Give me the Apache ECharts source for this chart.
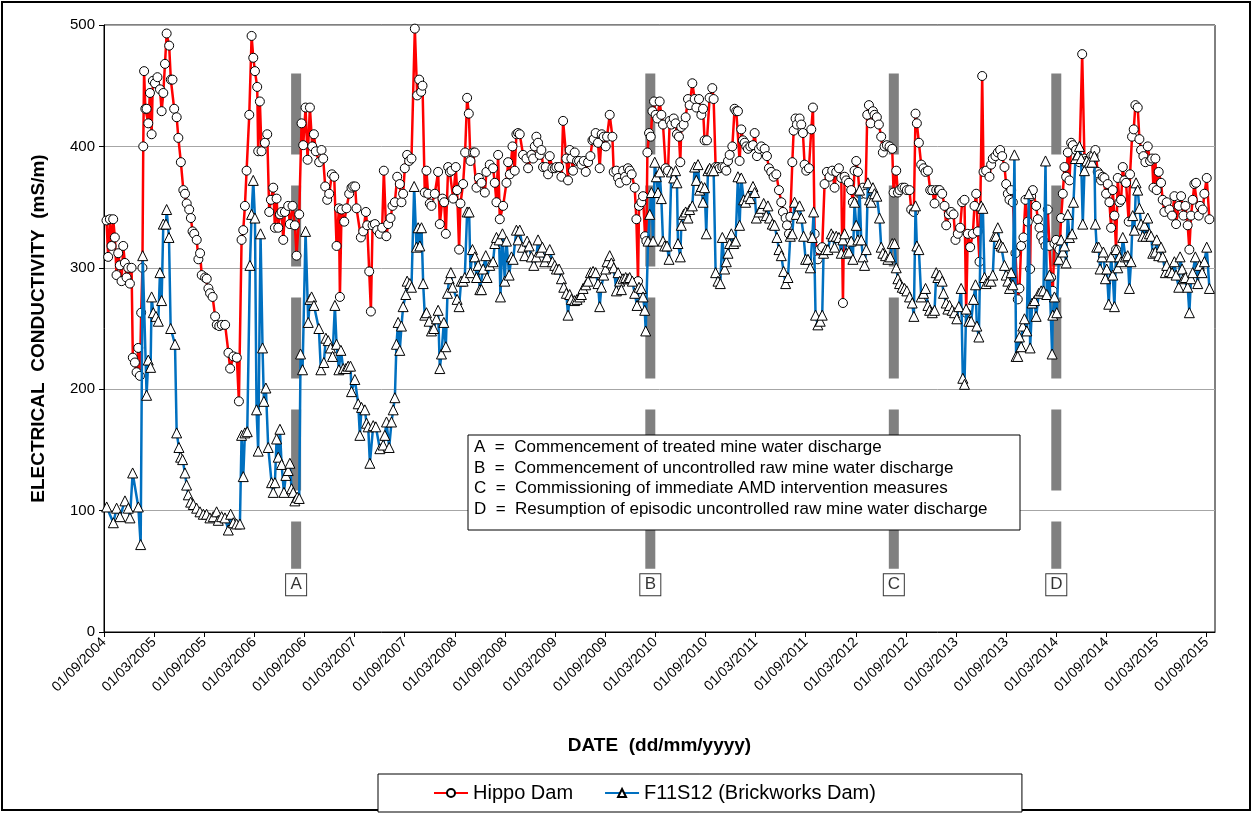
<!DOCTYPE html>
<html>
<head>
<meta charset="utf-8">
<script src="https://cdn.jsdelivr.net/npm/echarts@6/dist/echarts.min.js"></script>
<style>html,body{margin:0;padding:0;background:#fff}#c{width:1253px;height:813px}</style>
</head>
<body>
<div id="c"></div>
<script>
// Time is expressed as months elapsed since 01/09/2004.
const xTickLabels = ['01/09/2004','01/03/2005','01/09/2005','01/03/2006','01/09/2006','01/03/2007','01/09/2007','01/03/2008','01/09/2008','01/03/2009','01/09/2009','01/03/2010','01/09/2010','01/03/2011','01/09/2011','01/03/2012','01/09/2012','01/03/2013','01/09/2013','01/03/2014','01/09/2014','01/03/2015','01/09/2015'];
const yTicks = [0,100,200,300,400,500];

const hippoMonth = [0.3,0.5,0.7,0.9,1.1,1.3,1.5,1.7,1.9,2.1,2.3,2.5,2.7,2.9,3.1,3.3,3.45,3.7,3.9,4.1,4.3,4.45,4.6,4.7,4.8,4.95,5.1,5.3,5.5,5.7,5.85,6.1,6.4,6.7,6.9,7.1,7.3,7.5,7.8,8.0,8.2,8.4,8.7,8.9,9.2,9.5,9.7,9.9,10.2,10.4,10.6,10.8,11.1,11.3,11.5,11.7,12.1,12.3,12.5,12.7,13.0,13.3,13.5,13.8,14.1,14.5,14.9,15.1,15.5,15.9,16.15,
16.47,16.67,16.87,17.07,17.39,17.67,17.87,18.07,18.34,18.46,18.66,18.86,19.26,19.54,19.78,19.98,20.26,20.46,20.66,20.86,21.06,21.26,21.46,21.66,22.05,22.25,22.57,22.85,23.05,23.37,23.65,23.85,24.13,24.37,24.65,24.93,25.13,25.36,25.76,26.04,26.24,26.48,26.72,26.96,27.28,27.56,27.84,28.12,28.24,28.44,28.76,29.03,29.35,29.63,29.83,30.07,30.23,30.75,31.03,31.35,31.51,31.75,31.95,32.15,32.43,32.7,33.02,
33.3,33.5,33.8,34.02,34.3,34.54,34.82,35.1,35.41,35.61,35.81,36.01,36.29,36.53,36.81,37.21,37.49,37.73,37.97,38.13,38.4,38.6,38.8,39.0,39.2,39.6,40.0,40.2,40.52,40.72,40.92,41.2,41.4,41.6,41.8,42.11,42.27,42.51,42.67,42.99,43.23,43.47,43.67,43.87,44.19,44.39,44.59,44.87,45.19,45.59,45.78,46.18,46.58,46.78,46.98,47.18,47.38,47.78,48.18,48.38,48.58,48.9,49.17,49.37,49.57,
49.77,50.17,50.57,50.77,51.17,51.37,51.57,51.76,51.96,52.16,52.36,52.56,52.88,53.16,53.36,53.68,53.96,54.16,54.48,54.76,54.96,55.35,55.55,55.75,55.95,56.15,56.35,56.63,56.87,57.15,57.43,57.67,57.95,58.23,58.47,58.63,58.86,59.14,59.34,59.58,59.82,60.06,60.22,60.54,60.86,61.02,61.34,61.54,61.74,62.14,62.37,62.53,62.73,62.93,63.17,63.53,63.73,63.93,64.05,64.33,64.53,64.77,64.93,65.05,65.25,65.45,65.65,65.85,66.04,66.24,
66.52,66.72,66.92,67.24,67.52,67.72,67.92,68.2,68.43,68.59,68.83,68.99,69.11,69.39,69.63,69.91,70.11,70.43,70.71,70.91,71.23,71.51,71.71,71.9,72.18,72.5,72.82,72.98,73.22,73.5,73.7,74.02,74.3,74.5,74.7,74.9,75.22,75.49,75.69,75.89,76.09,76.29,76.49,76.69,76.89,77.09,77.37,77.69,77.89,78.17,78.41,78.69,79.09,79.36,79.6,79.88,80.16,80.48,80.8,81.08,81.28,81.6,81.76,82.0,82.16,82.4,82.56,82.79,82.95,
83.27,83.47,83.67,83.87,84.07,84.39,84.67,84.87,85.07,85.46,85.66,85.98,86.26,86.54,86.86,87.18,87.46,87.66,87.98,88.26,88.46,88.66,88.85,89.17,89.45,89.65,89.85,90.05,90.25,90.45,90.65,90.85,91.17,91.37,91.57,91.77,92.05,92.24,92.52,92.76,93.04,93.24,93.44,93.72,94.04,94.36,94.52,94.84,95.04,95.24,95.56,95.84,96.11,96.43,96.63,96.95,97.15,97.31,97.55,97.83,98.11,98.35,98.63,98.91,99.15,99.43,99.63,99.94,
100.02,100.34,100.62,100.82,101.14,101.42,101.7,101.93,102.21,102.49,102.73,103.01,103.21,103.41,103.69,104.01,104.21,104.41,104.61,104.81,105.13,105.29,105.6,106.0,106.2,106.4,106.72,107.0,107.28,107.52,107.8,108.0,108.2,108.4,108.6,108.8,109.11,109.39,109.59,109.79,110.07,110.31,110.59,110.87,110.99,111.19,111.59,111.79,111.99,112.19,112.47,112.71,112.98,113.18,113.38,113.58,113.78,113.98,114.18,114.38,114.58,114.78,114.98,115.18,115.38,115.58,115.78,115.98,116.37,116.77,
117.1,117.37,117.57,117.89,118.17,118.45,118.68,118.96,119.16,119.36,119.56,119.76,119.96,120.16,120.36,120.56,120.76,120.96,121.16,121.36,121.56,121.76,121.96,122.15,122.35,122.67,122.83,123.07,123.27,123.47,123.75,123.95,124.15,124.43,124.67,124.95,125.23,125.47,125.63,125.86,126.02,126.26,126.54,126.74,126.94,127.22,127.54,127.86,128.14,128.34,128.66,128.94,129.22,129.45,129.73,129.93,130.13,130.33,130.53,130.73,131.05,131.21,131.53,131.73,132.01,132.33];
const hippoEC = [339,309,340,318,340,325,294,312,302,289,318,304,292,300,287,300,226,222,214,234,211,263,300,400,462,431,431,419,444,410,454,452,457,447,429,444,468,493,483,455,455,431,424,407,387,364,361,353,348,341,330,328,323,307,312,294,292,291,283,279,276,260,253,252,253,253,230,217,227,226,190,
323,331,351,380,426,491,473,462,449,396,437,396,403,410,346,356,366,333,357,333,344,346,323,346,351,336,351,335,310,344,419,401,432,389,432,400,410,396,387,397,390,367,356,361,377,375,318,349,276,348,338,349,361,366,367,367,349,325,330,346,335,297,264,335,336,331,328,
333,380,326,336,341,351,354,375,369,354,361,382,393,388,390,497,442,455,445,450,362,380,361,353,351,361,379,336,357,354,328,383,379,380,357,383,364,315,353,369,395,440,427,388,395,395,366,374,370,362,379,385,382,370,354,393,340,351,370,387,377,400,380,410,411,
410,393,390,382,393,390,400,408,403,393,397,383,383,377,392,382,382,383,383,375,421,390,372,397,390,380,395,388,388,385,388,379,387,392,405,406,411,403,382,410,408,400,408,426,408,379,380,374,370,380,375,372,382,380,377,366,340,289,351,354,359,326,322,395,411,408,429,437,426,423,
437,426,418,382,380,421,418,423,419,410,408,387,416,418,424,439,434,452,439,432,439,426,431,405,405,440,448,439,383,383,382,383,383,380,388,393,400,431,429,429,388,414,405,403,400,398,400,401,411,392,398,400,398,392,382,379,375,377,364,354,346,341,335,328,342,387,413,423,418,
423,418,411,385,380,382,414,432,328,307,315,317,369,379,375,380,366,379,382,374,271,375,372,370,364,354,380,388,379,361,361,366,361,426,434,419,429,426,424,418,408,395,400,401,400,398,362,380,362,364,366,366,364,364,348,346,427,419,403,385,382,379,380,364,364,353,364,364,
364,361,351,335,344,346,344,323,328,333,354,356,263,328,317,328,351,361,330,305,458,379,380,375,385,390,392,395,397,392,383,369,361,356,364,354,312,274,283,318,325,356,338,299,359,364,351,340,333,326,322,318,348,318,292,281,320,323,317,315,341,361,383,375,395,372,403,401,397,387,
476,390,388,388,392,392,397,379,377,372,375,374,361,369,354,333,364,343,315,374,354,356,383,372,370,338,377,408,414,434,432,406,397,392,387,400,388,390,366,390,364,379,370,356,346,354,348,343,359,336,351,359,343,351,335,315,343,356,369,370,343,351,348,361,374,340];

const brickMonth = [0.32,1.12,1.51,1.91,2.51,2.91,3.11,3.43,4.11,4.39,4.63,5.1,5.3,5.58,5.7,5.9,6.22,6.5,6.7,6.9,7.1,7.42,7.5,7.78,7.98,8.5,8.7,8.97,9.17,9.41,9.69,9.89,10.09,10.37,10.69,11.09,11.49,11.89,12.28,12.68,13.08,13.48,13.68,14.08,14.48,14.88,15.16,15.48,15.87,16.27,
16.47,16.67,16.87,17.15,17.47,17.67,17.87,18.07,18.26,18.46,18.74,18.98,19.14,19.38,19.66,20.06,20.26,20.46,20.66,20.86,21.06,21.26,21.54,21.77,22.05,22.25,22.45,22.65,22.85,23.13,23.37,23.53,23.77,24.13,24.45,24.65,24.85,25.13,25.72,25.96,26.32,26.56,26.84,27.12,27.36,27.64,27.84,28.12,28.36,28.64,28.95,29.23,29.51,29.63,30.03,30.43,30.63,30.83,31.23,31.43,31.63,31.83,32.23,32.54,33.02,33.42,
33.62,33.82,34.14,34.42,34.62,34.82,35.01,35.21,35.41,35.61,35.81,36.13,36.29,36.61,36.81,37.13,37.41,37.61,37.81,38.01,38.21,38.4,38.6,38.92,39.2,39.48,39.8,40.0,40.2,40.4,40.68,40.92,41.12,41.32,41.52,41.72,42.27,42.51,42.75,42.99,43.19,43.47,43.71,43.87,44.11,44.39,44.59,44.79,44.99,45.19,45.39,45.7,45.86,46.18,46.58,46.78,46.98,47.3,47.46,47.7,47.98,48.18,48.5,48.78,48.98,49.37,49.57,
49.77,50.09,50.37,50.65,50.89,51.17,51.45,51.76,51.96,52.24,52.48,52.76,53.04,53.36,53.68,53.96,54.16,54.48,54.76,55.04,55.35,55.55,55.75,55.95,56.35,56.63,56.95,57.15,57.35,57.67,57.95,58.23,58.55,58.86,59.14,59.34,59.54,59.82,60.06,60.22,60.54,60.74,61.02,61.34,61.54,61.74,61.94,62.14,62.45,62.73,62.93,63.25,63.53,63.81,64.05,64.33,64.53,64.73,64.85,65.13,65.33,65.53,65.73,65.93,66.12,66.32,
66.52,66.72,66.92,67.12,67.4,67.64,67.92,68.2,68.43,68.59,68.71,68.99,69.11,69.39,69.63,69.91,70.11,70.43,70.71,70.91,71.11,71.31,71.51,71.71,71.9,72.1,72.3,72.5,72.7,72.98,73.22,73.5,73.78,74.02,74.3,74.5,74.7,74.9,75.1,75.38,75.61,75.89,76.09,76.29,76.57,76.81,77.09,77.37,77.69,77.89,78.09,78.41,78.69,78.97,79.28,79.48,79.68,80.0,80.28,80.56,80.8,81.08,81.36,81.6,81.88,82.16,82.4,82.67,82.87,
83.27,83.47,83.75,83.99,84.27,84.55,84.79,84.95,85.18,85.46,85.74,85.98,86.14,86.38,86.66,87.06,87.26,87.46,87.66,87.98,88.26,88.46,88.66,88.85,89.17,89.45,89.65,89.85,90.05,90.25,90.45,90.65,90.85,91.05,91.25,91.45,91.65,91.85,92.05,92.24,92.52,92.84,93.04,93.24,93.56,93.84,94.12,94.36,94.64,94.84,95.04,95.24,95.56,95.84,96.11,96.43,96.75,96.95,97.15,97.31,97.55,97.83,98.11,98.35,98.63,98.83,99.15,99.43,99.63,99.82,
100.02,100.34,100.5,100.82,101.02,101.22,101.54,101.82,102.09,102.33,102.61,102.81,103.01,103.21,103.53,103.81,104.09,104.33,104.49,104.73,105.01,105.21,105.41,105.6,105.92,106.2,106.4,106.6,106.8,107.0,107.2,107.4,107.6,107.8,108.0,108.2,108.4,108.6,108.8,108.99,109.19,109.39,109.59,109.79,109.99,110.19,110.47,110.71,110.87,111.11,111.39,111.59,111.91,112.19,112.47,112.71,112.86,113.18,113.5,113.58,113.78,114.06,114.3,114.58,114.78,114.98,115.18,115.38,115.58,115.9,116.06,116.29,116.57,116.77,116.97,
117.17,117.37,117.65,117.97,118.29,118.56,118.68,118.84,119.08,119.24,119.48,119.64,119.88,120.04,120.28,120.56,120.76,120.96,121.16,121.36,121.56,121.76,121.96,122.27,122.55,122.75,122.95,123.15,123.35,123.55,123.75,123.95,124.15,124.35,124.55,124.75,124.95,125.15,125.35,125.55,125.86,126.02,126.26,126.54,126.74,127.06,127.22,127.54,127.86,128.14,128.34,128.66,128.82,129.06,129.22,129.45,129.73,129.93,130.13,130.33,130.65,130.93,131.13,131.45,131.73,132.01,132.33];
const brickEC = [103,90,102,95,108,102,94,131,103,72,310,195,224,218,276,263,260,256,296,273,336,336,348,325,250,237,164,152,144,142,131,121,113,107,105,102,99,97,97,94,95,99,92,95,94,84,97,90,89,89,
162,128,164,165,302,344,372,341,183,149,328,234,190,201,152,123,115,123,159,144,167,138,115,129,133,139,118,115,108,111,110,229,216,330,255,274,276,269,250,216,222,242,240,234,227,269,237,216,232,217,217,219,219,198,208,188,162,185,183,172,169,139,170,169,151,154,
162,173,152,173,183,193,237,255,232,252,268,278,289,287,284,367,317,333,318,333,287,261,263,256,248,250,258,265,217,229,255,235,279,291,296,284,274,268,289,289,292,346,346,296,315,309,292,302,282,282,299,310,292,302,305,320,325,323,276,328,289,322,294,309,307,331,323,
331,317,310,322,318,309,302,309,323,313,317,305,309,315,305,302,299,299,291,284,279,261,278,274,273,274,276,278,283,286,289,296,297,296,287,268,284,294,299,305,310,304,300,281,296,289,282,291,292,291,292,289,279,269,284,283,276,265,248,322,344,362,322,387,375,362,
379,357,322,318,318,307,379,374,380,370,320,309,335,344,346,341,348,351,383,372,385,364,367,354,366,328,380,382,380,380,296,289,287,325,299,305,312,320,328,320,322,375,335,374,356,354,359,357,367,362,341,346,349,353,343,351,341,336,335,325,315,310,297,287,292,326,328,354,344,
351,341,326,307,307,300,325,346,261,253,256,261,312,315,315,328,326,317,326,325,312,323,328,312,313,322,307,354,335,323,364,323,309,302,315,370,356,354,366,361,359,341,317,312,310,307,309,320,320,300,291,287,284,283,281,276,271,260,351,318,315,276,279,283,269,265,263,265,296,292,
294,289,279,271,266,269,265,263,258,268,283,209,204,266,256,256,274,286,252,243,351,349,292,287,289,289,294,326,326,333,320,318,317,302,294,289,283,296,286,393,227,227,243,235,252,258,248,361,234,271,273,260,279,281,281,388,278,294,229,261,276,263,307,323,313,318,304,344,325,328,354,390,393,400,390,
336,380,388,387,387,392,336,317,317,299,309,313,291,299,270,309,294,268,315,300,309,305,325,309,310,283,305,343,331,370,364,349,336,326,335,326,341,328,326,312,313,323,310,317,309,296,302,297,296,305,294,284,309,299,291,292,284,263,291,296,309,287,302,296,305,317,283];

// Event markers (months since 01/09/2004) and letters
const eventLetters = ['A','B','C','D'];
const eventMonth = [23.0, 65.4, 94.55, 114.0];
const eventBarRange = [460, 52];   // EC span covered by the grey dashed bars
const eventLabelEC = 39;
const noteLines = [
  'A  =  Commencement of treated mine water discharge',
  'B  =  Commencement of uncontrolled raw mine water discharge',
  'C  =  Commissioning of immediate AMD intervention measures',
  'D  =  Resumption of episodic uncontrolled raw mine water discharge'
];

const FONT = '"Liberation Sans", Arial, sans-serif';
const hippoData = hippoMonth.map((m, i) => [m, hippoEC[i]]);
const brickData = brickMonth.map((m, i) => [m, brickEC[i]]);

const eventSeries = eventMonth.map((m) => ({
  type: 'line', silent: true, symbol: 'none', z: 1,
  data: [[m, eventBarRange[0]], [m, eventBarRange[1]]],
  lineStyle: { color: '#808080', width: 10, type: [81, 31], cap: 'butt' },
  tooltip: { show: false }
}));

const chart = echarts.init(document.getElementById('c'));
chart.setOption({
  animation: false,
  backgroundColor: '#fff',
  textStyle: { fontFamily: FONT },
  grid: { left: 104, right: 38, top: 25, bottom: 181, show: true, borderColor: '#000', borderWidth: 1, backgroundColor: 'rgba(0,0,0,0)' },
  xAxis: {
    type: 'value', min: 0, max: 133, interval: 6,
    name: 'DATE  (dd/mm/yyyy)', nameLocation: 'middle', nameGap: 104,
    nameTextStyle: { fontFamily: FONT, fontWeight: 'bold', fontSize: 19, color: '#000' },
    axisLine: { show: true, onZero: false, lineStyle: { color: '#000', width: 1 } },
    axisTick: { show: true, length: 5, lineStyle: { color: '#000' } },
    splitLine: { show: false },
    axisLabel: {
      rotate: 45, fontSize: 14, color: '#000', fontFamily: FONT, margin: 8, showMaxLabel: false,
      formatter: (v) => (Math.abs(v % 6) < 1e-6 ? (xTickLabels[Math.round(v / 6)] || '') : '')
    }
  },
  yAxis: {
    type: 'value', min: yTicks[0], max: yTicks[yTicks.length - 1], interval: 100,
    name: 'ELECTRICAL  CONDUCTIVITY  (mS/m)', nameLocation: 'middle', nameGap: 56,
    nameTextStyle: { fontFamily: FONT, fontWeight: 'bold', fontSize: 19, color: '#000' },
    axisLine: { show: true, lineStyle: { color: '#000', width: 1 } },
    axisTick: { show: true, length: 5, lineStyle: { color: '#000' } },
    splitLine: { show: true, lineStyle: { color: '#a6a6a6', width: 1 } },
    axisLabel: { fontSize: 15, color: '#000', fontFamily: FONT, margin: 9 }
  },
  legend: {
    left: 378, bottom: 1,
    data: ['Hippo Dam', 'F11S12 (Brickworks Dam)'],
    borderColor: '#000', borderWidth: 1, backgroundColor: '#fff',
    padding: [9, 146, 9, 55], itemGap: 31, itemWidth: 34, itemHeight: 10,
    textStyle: { fontSize: 20, color: '#000', fontFamily: FONT }
  },
  series: [
    ...eventSeries,
    {
      name: 'Hippo Dam', type: 'line', data: hippoData, z: 3,
      symbol: 'circle', symbolSize: 9, showAllSymbol: true,
      lineStyle: { color: '#ff0000', width: 2.5 },
      itemStyle: { color: '#fff', borderColor: '#000', borderWidth: 1 }
    },
    {
      name: 'F11S12 (Brickworks Dam)', type: 'line', data: brickData, z: 4,
      symbol: 'triangle', symbolSize: 10, showAllSymbol: true,
      lineStyle: { color: '#0070c0', width: 2.5 },
      itemStyle: { color: '#fff', borderColor: '#000', borderWidth: 1 }
    },
    {
      type: 'scatter', silent: true, z: 5,
      data: eventMonth.map((m, i) => [m, eventLabelEC, eventLetters[i]]),
      symbol: 'rect', symbolSize: [21, 22],
      itemStyle: { color: '#fff', borderColor: '#000', borderWidth: 1 },
      label: { show: true, position: 'inside', formatter: (p) => p.value[2], fontSize: 17, color: '#000', fontFamily: FONT }
    }
  ],
  graphic: [
    { type: 'rect', z: 100, shape: { x: 468, y: 435, width: 552, height: 95 }, style: { fill: '#fff', stroke: '#000', lineWidth: 1 } },
    ...noteLines.map((t, i) => ({
      type: 'text', z: 101, left: 474, top: 439 + i * 20.5,
      style: { text: t, fill: '#000', font: '17px ' + FONT }
    })),
    { type: 'rect', z: 0, silent: true, shape: { x: 2, y: 2, width: 1248, height: 808 }, style: { fill: 'none', stroke: '#000', lineWidth: 2 } }
  ]
});
</script>
</body>
</html>
